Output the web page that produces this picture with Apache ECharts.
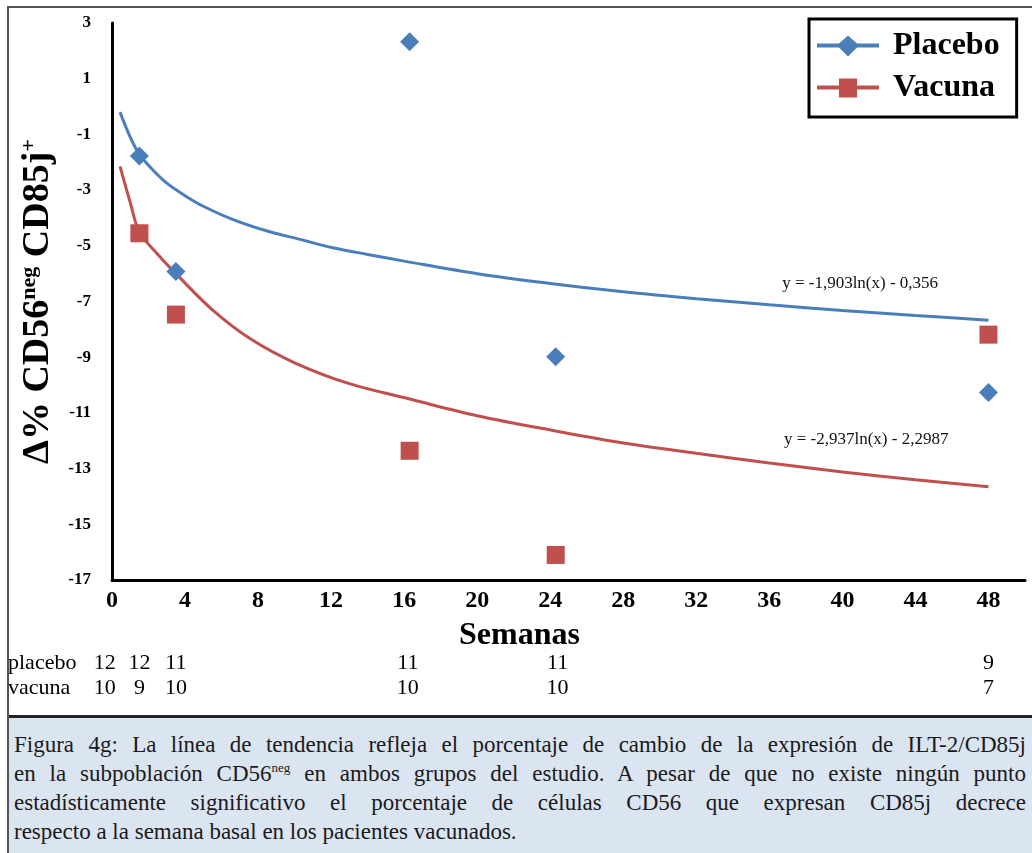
<!DOCTYPE html>
<html>
<head>
<meta charset="utf-8">
<script src="https://cdn.jsdelivr.net/npm/echarts@6/dist/echarts.min.js"></script>
<style>
html,body{margin:0;padding:0;background:#fff;}
#wrap{position:relative;width:1032px;height:853px;overflow:hidden;}
#chart{position:absolute;left:0;top:0;width:1032px;height:853px;}
#frame{position:absolute;left:7px;top:6px;width:1060px;height:900px;border:2px solid #555;box-sizing:border-box;pointer-events:none;}
#caption{position:absolute;left:8px;top:715px;width:1060px;height:160px;background:#dbe5f1;border-top:3px solid #222;}
.cl{position:absolute;left:6px;width:1012px;font-family:'Liberation Serif','Times New Roman',serif;font-size:23px;line-height:29px;white-space:nowrap;color:#1a1a1a;}
.j{text-align:justify;text-align-last:justify;}
.cl sup{font-size:13px;line-height:0;}
</style>
</head>
<body>
<div id="wrap">
  <div id="chart"></div>
  <div id="caption">
    <div class="cl j" style="top:12px">Figura 4g: La línea de tendencia refleja el porcentaje de cambio de la expresión de ILT-2/CD85j</div>
    <div class="cl j" style="top:41px">en la subpoblación CD56<sup>neg</sup> en ambos grupos del estudio. A pesar de que no existe ningún punto</div>
    <div class="cl j" style="top:70px">estadísticamente significativo el porcentaje de células CD56 que expresan CD85j decrece</div>
    <div class="cl" style="top:99px">respecto a la semana basal en los pacientes vacunados.</div>
  </div>
  <div id="frame"></div>
</div>
<script>
// ---- data ----
const seriesNames = ['Placebo', 'Vacuna'];
const weeksPlacebo = [1.5, 3.5, 16.3, 24.3, 48];
const valuesPlacebo = [-1.78, -5.92, 2.33, -8.98, -10.27];
const weeksVacuna = [1.5, 3.5, 16.3, 24.3, 48];
const valuesVacuna = [-4.55, -7.47, -12.36, -16.10, -8.19];

// trend curves
const trendWeeksPlacebo = [0.44, 1, 1.5, 2.2, 3, 4, 5, 6.6, 8.5, 10.3, 12.1, 14, 16, 20, 24, 28, 32, 36, 40, 44, 48];
const trendPlacebo = [-0.2, -1.1, -1.72, -2.25, -2.75, -3.2, -3.58, -4.05, -4.47, -4.77, -5.07, -5.31, -5.55, -6.0, -6.35, -6.65, -6.9, -7.12, -7.32, -7.5, -7.67];
const trendWeeksVacuna = [0.44, 1, 1.5, 2.5, 3.5, 5.5, 7.6, 10, 13, 16.3, 20, 24.3, 28, 32, 36, 40, 44, 48];
const trendVacuna = [-2.15, -3.45, -4.5, -5.3, -6.0, -7.3, -8.35, -9.2, -9.95, -10.5, -11.1, -11.65, -12.08, -12.45, -12.8, -13.12, -13.4, -13.65];

const equationPlacebo = 'y = -1,903ln(x) - 0,356';
const equationVacuna = 'y = -2,937ln(x) - 2,2987';

// patients per visit (table under the axis)
const countWeeks = [-0.4, 1.5, 3.5, 16.2, 24.4, 48];
const countsPlacebo = [12, 12, 11, 11, 11, 9];
const countsVacuna = [10, 9, 10, 10, 10, 7];
const countRowNames = ['placebo', 'vacuna'];

const xMin = 0, xMax = 50, xInterval = 4;
const yMin = -17, yMax = 3, yInterval = 2;

const BLUE = '#4a7ebb';
const RED = '#c0504d';
const SERIF = "'Liberation Serif','Times New Roman',serif";

function pairs(xs, ys) { return xs.map((x, i) => [x, ys[i]]); }

const chart = echarts.init(document.getElementById('chart'), null, {renderer: 'canvas'});

const option = {
  animation: false,
  textStyle: {fontFamily: SERIF},
  grid: {left: 112, top: 23, right: 7, bottom: 273, containLabel: false},
  legend: {
    orient: 'vertical',
    left: 809, top: 19,
    padding: [11, 17, 13, 8],
    itemGap: 10,
    itemWidth: 62, itemHeight: 21,
    borderColor: '#000', borderWidth: 3,
    backgroundColor: '#fff',
    textStyle: {fontFamily: SERIF, fontSize: 32, fontWeight: 'bold', color: '#000', padding: [0, 0, 0, 9]},
    data: [
      {name: seriesNames[0], icon: 'path://M0,8H22L31,0L40,8H62V12H40L31,21L22,12H0Z'},
      {name: seriesNames[1], icon: 'path://M0,8H22V1H40V8H62V12H40V20H22V12H0Z'}
    ]
  },
  xAxis: {
    type: 'value', min: xMin, max: xMax, interval: xInterval,
    axisLine: {show: true, onZero: false, lineStyle: {color: '#000', width: 3}},
    axisTick: {show: false},
    splitLine: {show: false},
    axisLabel: {showMaxLabel: false, margin: 9, fontFamily: SERIF, fontSize: 24, fontWeight: 'bold', color: '#000'},
    name: 'Semanas', nameLocation: 'middle', nameGap: 40,
    nameTextStyle: {fontFamily: SERIF, fontSize: 32, fontWeight: 'bold', color: '#000', padding: [0, 98, 0, 0]}
  },
  yAxis: {
    type: 'value', min: yMin, max: yMax, interval: yInterval,
    axisLine: {show: true, onZero: false, lineStyle: {color: '#000', width: 3}},
    axisTick: {show: false},
    splitLine: {show: false},
    axisLabel: {margin: 21, fontFamily: SERIF, fontSize: 17, fontWeight: 'bold', color: '#000'},
    name: '{b|Δ% CD56}{s|neg}{b| CD85j}{s|+}',
    nameLocation: 'middle', nameRotate: 90, nameGap: 52,
    nameTextStyle: {
      rich: {
        b: {fontFamily: SERIF, fontSize: 38, fontWeight: 'bold', color: '#000', lineHeight: 40},
        s: {fontFamily: SERIF, fontSize: 22, fontWeight: 'bold', color: '#000', verticalAlign: 'top', lineHeight: 24}
      }
    }
  },
  series: [
    {
      name: seriesNames[0] + ' tendencia', type: 'line', smooth: 0.35, showSymbol: false,
      data: pairs(trendWeeksPlacebo, trendPlacebo),
      lineStyle: {color: BLUE, width: 3}, itemStyle: {color: BLUE}, z: 2, silent: true
    },
    {
      name: seriesNames[1] + ' tendencia', type: 'line', smooth: 0.35, showSymbol: false,
      data: pairs(trendWeeksVacuna, trendVacuna),
      lineStyle: {color: RED, width: 3}, itemStyle: {color: RED}, z: 2, silent: true
    },
    {
      name: seriesNames[0], type: 'scatter', symbol: 'diamond', symbolSize: 19,
      data: pairs(weeksPlacebo, valuesPlacebo), itemStyle: {color: BLUE, opacity: 1}, z: 3
    },
    {
      name: seriesNames[1], type: 'scatter', symbol: 'rect', symbolSize: 18,
      data: pairs(weeksVacuna, valuesVacuna), itemStyle: {color: RED, opacity: 1}, z: 3
    }
  ]
};
chart.setOption(option);

// annotations placed via the axes' own scales
const graphics = [];
function addText(x, y, text, style) {
  graphics.push({type: 'text', x: x, y: y, style: Object.assign({text: text, fill: '#000', fontFamily: SERIF}, style)});
}
const eqP = chart.convertToPixel({xAxisIndex: 0, yAxisIndex: 0}, [36.7, -6.35]);
addText(eqP[0], eqP[1], equationPlacebo, {fontSize: 17, align: 'left', verticalAlign: 'middle', fill: '#111'});
const eqV = chart.convertToPixel({xAxisIndex: 0, yAxisIndex: 0}, [36.8, -11.95]);
addText(eqV[0], eqV[1], equationVacuna, {fontSize: 17, align: 'left', verticalAlign: 'middle', fill: '#111'});

const rowY = [663, 688];
addText(8, rowY[0], countRowNames[0], {fontSize: 22, align: 'left', verticalAlign: 'middle'});
addText(8, rowY[1], countRowNames[1], {fontSize: 22, align: 'left', verticalAlign: 'middle'});
countWeeks.forEach((w, i) => {
  const px = chart.convertToPixel({xAxisIndex: 0}, w);
  addText(px, rowY[0], String(countsPlacebo[i]), {fontSize: 22, align: 'center', verticalAlign: 'middle'});
  addText(px, rowY[1], String(countsVacuna[i]), {fontSize: 22, align: 'center', verticalAlign: 'middle'});
});
chart.setOption({graphic: graphics});
</script>
</body>
</html>
